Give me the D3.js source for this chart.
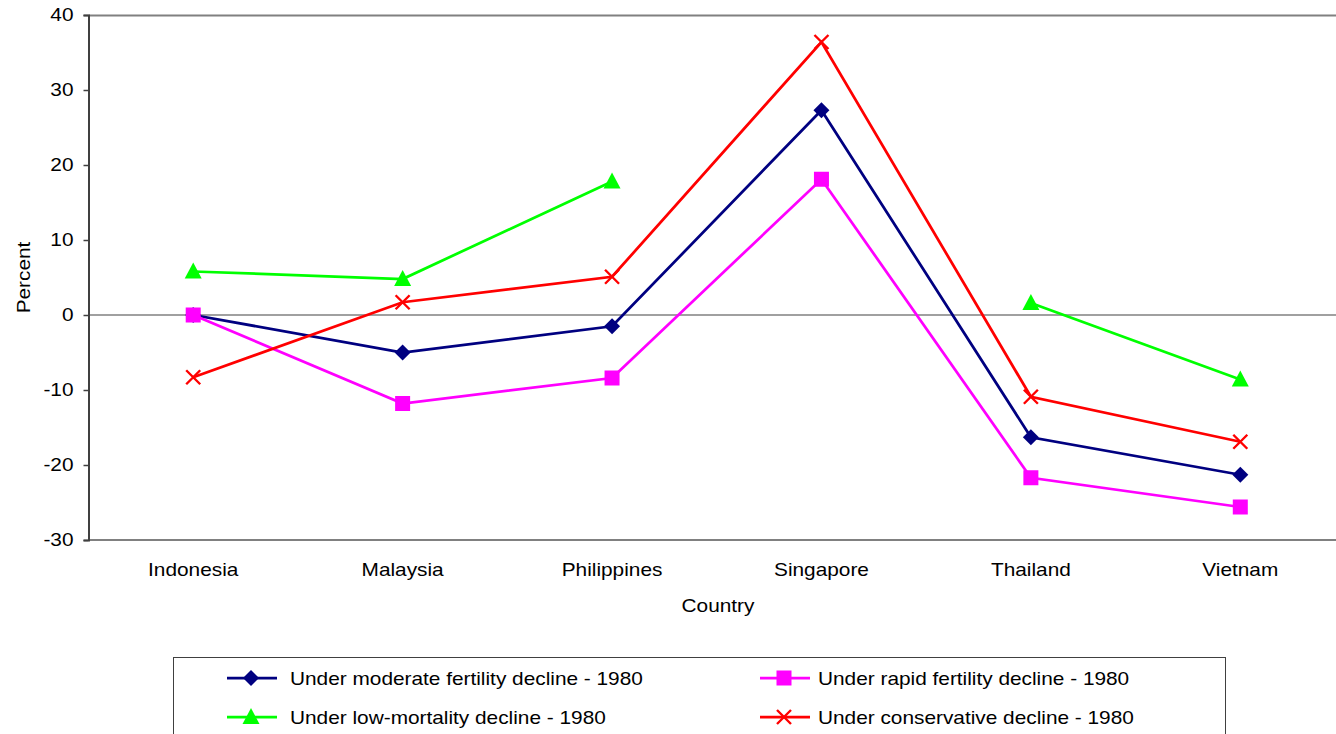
<!DOCTYPE html>
<html><head><meta charset="utf-8">
<script src="https://cdn.jsdelivr.net/npm/d3@7"></script>
<style>body{margin:0;background:#fff}svg{display:block;font-family:"Liberation Sans",Arial,sans-serif}</style>
</head><body>
<svg id="c" width="1336" height="734"></svg>
<script>
const countries = ["Indonesia","Malaysia","Philippines","Singapore","Thailand","Vietnam"];
const moderate = [0, -5.0, -1.5, 27.3, -16.3, -21.3];
const rapid = [0, -11.8, -8.4, 18.1, -21.7, -25.6];
const lowMortality = [5.8, 4.8, 17.8, null, 1.6, -8.6];
const conservative = [-8.3, 1.7, 5.1, 36.4, -10.9, -16.9];
const yTicks = [-30,-20,-10,0,10,20,30,40];
const seriesNames = ["Under moderate fertility decline - 1980","Under rapid fertility decline - 1980","Under low-mortality decline - 1980","Under conservative decline - 1980"];
const seriesColors = ["#000080","#ff00ff","#00ff00","#ff0000"];
const seriesMarkers = ["diamond","square","triangle","x"];
const seriesValues = [moderate, rapid, lowMortality, conservative];

const FS = 18.5, STRETCH = 1.125;
function stretch(sel){
  sel.each(function(){
    const w = this.getComputedTextLength();
    d3.select(this).attr("textLength", w*STRETCH).attr("lengthAdjust","spacingAndGlyphs");
  });
}

const svg = d3.select("#c");
const L = 88.5, R = 1345, T = 15, B = 540;
const x = d3.scaleBand().domain(countries).range([L, R]);
const y = d3.scaleLinear().domain([-30, 40]).range([B, T]);

// frame lines
svg.append("line").attr("x1",L).attr("x2",R).attr("y1",T+0.5).attr("y2",T+0.5).attr("stroke","#808080").attr("stroke-width",2);
svg.append("line").attr("x1",L).attr("x2",R).attr("y1",B).attr("y2",B).attr("stroke","#808080").attr("stroke-width",2);
svg.append("line").attr("x1",L).attr("x2",R).attr("y1",y(0)).attr("y2",y(0)).attr("stroke","#808080").attr("stroke-width",1.5);

// y axis
const ya = svg.append("g").attr("transform",`translate(${L},0)`)
  .call(d3.axisLeft(y).tickValues(yTicks).tickSize(5).tickPadding(10).tickFormat(d=>String(d)));
ya.select(".domain").attr("stroke","#404040").attr("stroke-width",2);
ya.selectAll(".tick line").attr("stroke","#404040").attr("stroke-width",1.5);
ya.selectAll("text").attr("font-size",FS).attr("fill","#000").attr("font-family","Liberation Sans, Arial, sans-serif").call(stretch);

// x axis labels
const xa = svg.append("g").attr("transform",`translate(0,${B})`)
  .call(d3.axisBottom(x).tickSize(0).tickPadding(23));
xa.select(".domain").remove();
xa.selectAll("text").attr("font-size",FS).attr("fill","#000").attr("font-family","Liberation Sans, Arial, sans-serif").call(stretch);

svg.append("text").attr("x",718).attr("y",612).attr("text-anchor","middle").attr("font-size",FS).text("Country").call(stretch);
svg.append("text").attr("transform",`translate(30,${y(5)}) rotate(-90)`).attr("text-anchor","middle").attr("font-size",FS).text("Percent").call(stretch);

function marker(g, type, color, cx, cy){
  if(type==="diamond"){
    g.append("path").attr("d",`M${cx},${cy-8}L${cx+8},${cy}L${cx},${cy+8}L${cx-8},${cy}Z`).attr("fill",color);
  } else if(type==="square"){
    g.append("rect").attr("x",cx-7.5).attr("y",cy-7.5).attr("width",15).attr("height",15).attr("fill",color);
  } else if(type==="triangle"){
    g.append("path").attr("d",`M${cx},${cy-9}L${cx+8.5},${cy+7}L${cx-8.5},${cy+7}Z`).attr("fill",color);
  } else {
    g.append("path").attr("d",`M${cx-7},${cy-7}L${cx+7},${cy+7}M${cx-7},${cy+7}L${cx+7},${cy-7}`).attr("stroke",color).attr("stroke-width",2.4).attr("fill","none");
  }
}

const line = d3.line().defined(d=>d.v!==null).x(d=>x(d.c)+x.bandwidth()/2).y(d=>y(d.v));
seriesValues.forEach((vals,i)=>{
  const data = countries.map((c,j)=>({c, v: vals[j]}));
  const g = svg.append("g");
  g.append("path").attr("d", line(data)).attr("fill","none").attr("stroke",seriesColors[i]).attr("stroke-width",2.75);
  data.filter(d=>d.v!==null).forEach(d=>marker(g, seriesMarkers[i], seriesColors[i], x(d.c)+x.bandwidth()/2, y(d.v)));
});

// legend
const lg = svg.append("g");
lg.append("rect").attr("x",173.5).attr("y",657.5).attr("width",1052).attr("height",100).attr("fill","#fff").attr("stroke","#404040").attr("stroke-width",1);
const legPos = [[227,678,290],[760,678,818],[227,717,290],[760,717,818]];
seriesNames.forEach((n,i)=>{
  const [lx,ly,tx] = legPos[i];
  lg.append("line").attr("x1",lx).attr("x2",lx+50).attr("y1",ly).attr("y2",ly).attr("stroke",seriesColors[i]).attr("stroke-width",2.75);
  marker(lg, seriesMarkers[i], seriesColors[i], lx+24, ly);
  lg.append("text").attr("x",tx).attr("y",ly+6.5).attr("font-size",FS).text(n).call(stretch);
});
</script>
</body></html>
